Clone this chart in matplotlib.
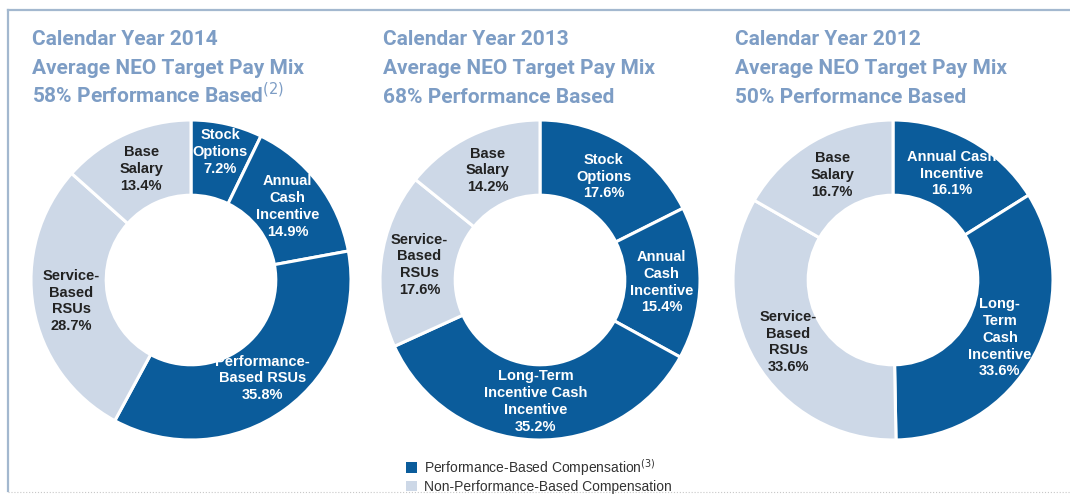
import math
import matplotlib.pyplot as plt
from matplotlib.patches import Patch
from matplotlib.lines import Line2D

# data
years = ['2014', '2013', '2012']
perf_share = ['58%', '68%', '50%']
title_notes = ['$^{(2)}$', '', '']

labels_2014 = ['Stock\nOptions', 'Annual\nCash\nIncentive', 'Performance-\nBased RSUs', 'Service-\nBased\nRSUs', 'Base\nSalary']
values_2014 = [7.2, 14.9, 35.8, 28.7, 13.4]
perf_2014 = [1, 1, 1, 0, 0]

labels_2013 = ['Stock\nOptions', 'Annual\nCash\nIncentive', 'Long-Term\nIncentive Cash\nIncentive', 'Service-\nBased\nRSUs', 'Base\nSalary']
values_2013 = [17.6, 15.4, 35.2, 17.6, 14.2]
perf_2013 = [1, 1, 1, 0, 0]

labels_2012 = ['Annual Cash\nIncentive', 'Long-\nTerm\nCash\nIncentive', 'Service-\nBased\nRSUs', 'Base\nSalary']
values_2012 = [16.1, 33.6, 33.6, 16.7]
perf_2012 = [1, 1, 0, 0]

legend_labels = ['Performance-Based Compensation$^{(3)}$', 'Non-Performance-Based Compensation']

DARK = '#0b5c9b'
LIGHT = '#cdd8e7'
TITLE_C = '#7d9dc5'
FRAME_C = '#a3b8cf'

W, H = 1070, 495
fig = plt.figure(figsize=(W / 100, H / 100), dpi=100)
fig.patch.set_facecolor('white')

def px(x, y):
    return x / W, 1 - y / H

# frame lines
fig.add_artist(Line2D([8 / W, 1], [1 - 10 / H] * 2, color=FRAME_C, lw=1.6))
fig.add_artist(Line2D([8 / W] * 2, [1 - 10 / H, 1 - 491 / H], color=FRAME_C, lw=1.6))
fig.add_artist(Line2D([8 / W, 1], [1 - 492 / H] * 2, color='#c8c8c8', lw=0.8, ls=':'))

panels = [
    (labels_2014, values_2014, perf_2014, 191, 32),
    (labels_2013, values_2013, perf_2013, 540, 383),
    (labels_2012, values_2012, perf_2012, 893, 735),
]
R = 160
cy = 280
title_font = dict(family=['Roboto', 'DejaVu Sans'], weight='bold', size=15, color=TITLE_C)

for i, (labels, values, perf, cx, tx) in enumerate(panels):
    ax = fig.add_axes([(cx - R) / W, (H - cy - R) / H, 2 * R / W, 2 * R / H])
    colors = [DARK if p else LIGHT for p in perf]
    wedges, _ = ax.pie(values, colors=colors, startangle=90, counterclock=False, radius=1,
                       wedgeprops=dict(width=0.47, edgecolor='white', linewidth=2.2))
    ax.set_xlim(-1, 1)
    ax.set_ylim(-1, 1)
    ax.axis('off')
    for w, lab, v, p in zip(wedges, labels, values, perf):
        a = math.radians((w.theta1 + w.theta2) / 2)
        d = 0.82 if v < 10 else 0.76
        ax.text(d * math.cos(a), d * math.sin(a), f'{lab}\n{v}%', ha='center', va='center',
                fontsize=10.5, fontweight='bold', family=['Liberation Sans', 'DejaVu Sans'],
                color='white' if p else '#222222', linespacing=1.25)

    fig.text(*px(tx, 45), f'Calendar Year {years[i]}', va='baseline', ha='left', **title_font)
    fig.text(*px(tx, 74), 'Average NEO Target Pay Mix', va='baseline', ha='left', **title_font)
    fig.text(*px(tx, 103), f'{perf_share[i]} Performance Based{title_notes[i]}', va='baseline', ha='left', **title_font)

handles = [Patch(facecolor=DARK), Patch(facecolor=LIGHT)]
fig.legend(handles, legend_labels, loc='upper left', bbox_to_anchor=px(406, 457), frameon=False,
           handlelength=0.8, handleheight=0.8, handletextpad=0.5, labelspacing=0.15,
           prop=dict(family=['Liberation Sans', 'DejaVu Sans'], size=10), labelcolor='#333333',
           borderaxespad=0, borderpad=0)

fig.savefig('out.png', dpi=100)
